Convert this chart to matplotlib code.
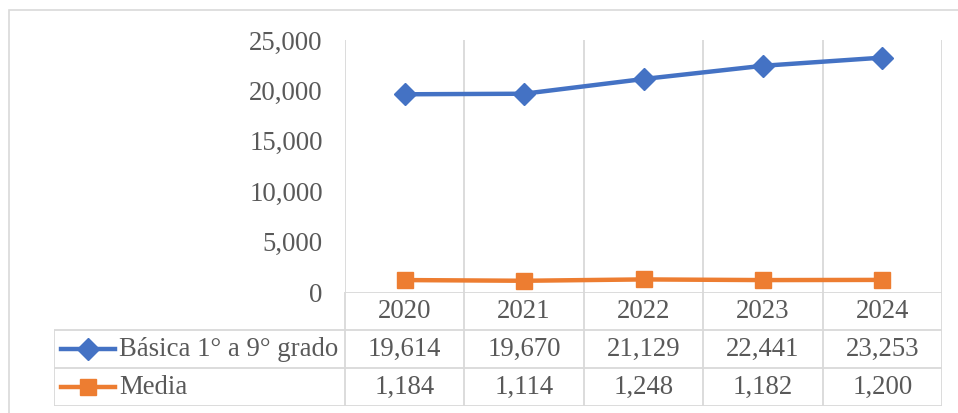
import matplotlib

matplotlib.use("Agg")
import matplotlib.pyplot as plt
from matplotlib.lines import Line2D
from matplotlib.patches import Rectangle

years = ["2020", "2021", "2022", "2023", "2024"]
basica = [19614, 19670, 21129, 22441, 23253]
media = [1184, 1114, 1248, 1182, 1200]
series_names = ["Básica 1° a 9° grado", "Media"]
yticks = [0, 5000, 10000, 15000, 20000, 25000]

C_BLUE = "#4472C4"; C_ORANGE = "#ED7D31"; C_GRID = "#D9D9D9"; C_TEXT = "#595959"
FS = 19.3
MS = 11.5
W, H = 958, 413
plt.rcParams["font.family"] = ["Liberation Serif", "DejaVu Serif"]

fig = plt.figure(figsize=(W / 100, H / 100), dpi=100)

def fx(px):
    return px / W

def fy(py):
    return 1 - py / H

# outer chart border
fig.patches.append(Rectangle((fx(9), -0.05), 1.2, fy(10) + 0.05, transform=fig.transFigure,
                             fill=False, edgecolor=C_GRID, lw=1.2))

# plot area
x0, x1, ytop, ybot = 345, 942, 40, 292
ax = fig.add_axes([fx(x0), fy(ybot), fx(x1) - fx(x0), fy(ytop) - fy(ybot)])
n = len(years)
xs = [i + 0.5 for i in range(n)]
ax.set_xlim(0, n); ax.set_ylim(0, 25000)
for i in range(n + 1):
    ax.axvline(i, color=C_GRID, lw=1.3, zorder=1)
ax.plot(xs, basica, "-D", color=C_BLUE, lw=3.2, ms=MS, zorder=3, clip_on=False)
ax.plot(xs, media, "-s", color=C_ORANGE, lw=3.2, ms=MS, zorder=3, clip_on=False)
ax.set_yticks(yticks)
ax.set_yticklabels([f"{v:,}" for v in yticks], fontsize=FS, color=C_TEXT)
ax.set_xticks([])
ax.tick_params(axis="y", length=0, pad=16)
for s in ax.spines.values():
    s.set_visible(False)
ax.patch.set_alpha(0)

# data table below the plot
tl, tb = 54, 406
unit = (x1 - x0) / n
left_u = (tl - x0) / unit
tax = fig.add_axes([fx(tl), fy(tb), fx(x1) - fx(tl), fy(ybot) - fy(tb)])
tax.set_xlim(left_u, n); tax.set_ylim(0, 3)
tax.axis("off")
lk = dict(color=C_GRID, lw=1.3, solid_capstyle="butt")
tax.plot([0, n], [3, 3], **lk)
tax.plot([left_u, n], [2, 2], **lk)
tax.plot([left_u, n], [1, 1], **lk)
tax.plot([left_u, n], [0, 0], **lk)
tax.plot([left_u, left_u], [0, 2], **lk)
for i in range(n + 1):
    tax.plot([i, i], [0, 3], **lk)
for i, yr in enumerate(years):
    tax.text(i + 0.5, 2.5, yr, ha="center", va="center", fontsize=FS, color=C_TEXT)
for row, (name, vals, col, mk) in enumerate([(series_names[0], basica, C_BLUE, "D"),
                                              (series_names[1], media, C_ORANGE, "s")]):
    yc = 1.5 - row
    for i, v in enumerate(vals):
        tax.text(i + 0.5, yc, f"{v:,}", ha="center", va="center", fontsize=FS, color=C_TEXT)
    lx0 = left_u + (61 - tl) / unit
    lx1 = left_u + (115 - tl) / unit
    tax.add_line(Line2D([lx0, lx1], [yc, yc], color=col, lw=3.2))
    tax.plot([(lx0 + lx1) / 2], [yc], mk, color=col, ms=MS)
    tax.text(left_u + (119 - tl) / unit, yc, name, ha="left", va="center", fontsize=FS, color=C_TEXT)

fig.savefig("out.png", dpi=100)
